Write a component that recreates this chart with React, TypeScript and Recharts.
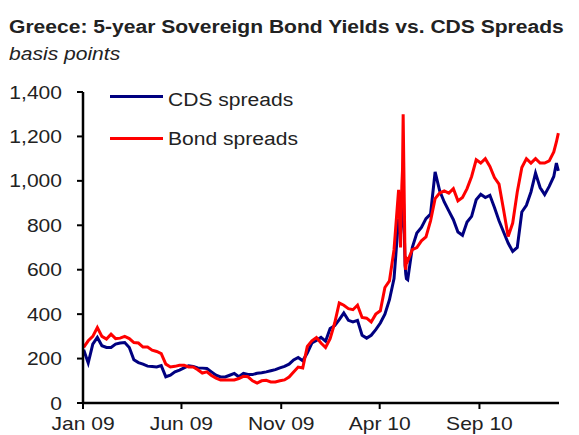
import React from 'react';
import { LineChart, Line, XAxis, YAxis } from 'recharts';

// weekly observations (Fridays) plus a few daily points around the May 2010 spike
const dates = [
  '2009-01-02', '2009-01-09', '2009-01-16', '2009-01-23', '2009-01-30',
  '2009-02-06', '2009-02-13', '2009-02-20', '2009-02-27',
  '2009-03-06', '2009-03-13', '2009-03-20', '2009-03-27',
  '2009-04-03', '2009-04-10', '2009-04-17', '2009-04-24',
  '2009-05-01', '2009-05-08', '2009-05-15', '2009-05-22', '2009-05-29',
  '2009-06-05', '2009-06-12', '2009-06-19', '2009-06-26',
  '2009-07-03', '2009-07-10', '2009-07-17', '2009-07-24', '2009-07-31',
  '2009-08-07', '2009-08-14', '2009-08-21', '2009-08-28',
  '2009-09-04', '2009-09-11', '2009-09-18', '2009-09-25',
  '2009-10-02', '2009-10-09', '2009-10-16', '2009-10-23', '2009-10-30',
  '2009-11-06', '2009-11-13', '2009-11-20', '2009-11-27',
  '2009-12-04', '2009-12-11', '2009-12-18', '2009-12-25',
  '2010-01-01', '2010-01-08', '2010-01-15', '2010-01-22', '2010-01-29',
  '2010-02-05', '2010-02-12', '2010-02-19', '2010-02-26',
  '2010-03-05', '2010-03-12', '2010-03-19', '2010-03-26',
  '2010-04-02', '2010-04-09', '2010-04-16', '2010-04-23', '2010-04-30',
  '2010-05-03', '2010-05-04', '2010-05-05', '2010-05-06', '2010-05-07',
  '2010-05-10', '2010-05-11', '2010-05-12', '2010-05-14',
  '2010-05-21', '2010-05-28',
  '2010-06-04', '2010-06-11', '2010-06-18', '2010-06-25',
  '2010-07-02', '2010-07-09', '2010-07-16', '2010-07-23', '2010-07-30',
  '2010-08-06', '2010-08-13', '2010-08-20', '2010-08-27',
  '2010-09-03', '2010-09-10', '2010-09-17', '2010-09-24',
  '2010-10-01', '2010-10-08', '2010-10-15', '2010-10-22', '2010-10-29',
  '2010-11-05', '2010-11-12', '2010-11-19', '2010-11-26',
  '2010-12-03', '2010-12-10', '2010-12-17', '2010-12-24', '2010-12-28', '2010-12-31',
];

const cdsSpreads = [
  240, 180, 265, 295, 258, 250, 250, 265, 270, 272,
  250, 195, 182, 175, 166, 164, 162, 168, 118, 125,
  140, 148, 158, 168, 165, 158, 157, 155, 140, 125,
  117, 117, 125, 133, 118, 133, 128, 128, 134, 136,
  140, 145, 150, 158, 165, 175, 194, 205, 190, 225,
  270, 282, 295, 278, 335, 348, 375, 405, 372, 365,
  372, 305, 292, 305, 330, 360, 400, 465, 560, 830,
  760, 800, 850, 900, 970,
  620, 580, 560, 555,
  700, 765, 790, 830, 850, 1040, 955, 905,
  865, 825, 770, 755, 815, 840, 915, 940, 925, 935,
  880, 820, 770, 720, 682, 700, 860, 890, 950, 1035,
  970, 938, 975, 1020, 1080, 1045,
];

const bondSpreads = [
  250, 280, 300, 340, 300, 288, 310, 290, 292, 300,
  290, 272, 270, 252, 252, 238, 232, 222, 175, 162,
  165, 170, 170, 162, 162, 150, 135, 140, 124, 112,
  103, 103, 103, 104, 110, 120, 118, 100, 90, 100,
  102, 95, 95, 100, 104, 117, 140, 162, 158, 255,
  280, 295, 270, 250, 290, 360, 450, 440, 425, 420,
  440, 385, 382, 365, 400, 415, 520, 550, 690, 960,
  700, 850, 980, 1050, 1300,
  620, 600, 650, 640,
  690, 700, 730, 748, 820, 920, 945, 955,
  945, 965, 910, 925, 965, 1020, 1095, 1080, 1100, 1065,
  1015, 985, 870, 750, 810, 950, 1060, 1100, 1080, 1100,
  1080, 1080, 1090, 1130, 1175, 1215,
];

const tickDates = ['2009-01-01', '2009-06-01', '2009-11-01', '2010-04-01', '2010-09-01'];
const tickLabels = ['Jan 09', 'Jun 09', 'Nov 09', 'Apr 10', 'Sep 10'];
const yTicks = [0, 200, 400, 600, 800, 1000, 1200, 1400];

const DAY = 86400000;
const origin = Date.parse('2009-01-01');
const toDay = (d: string) => (Date.parse(d) - origin) / DAY;

const data = dates.map((d, i) => ({
  t: toDay(d),
  cds: cdsSpreads[i],
  bond: bondSpreads[i],
}));

const xTicks = tickDates.map(toDay);

const FONT = '"Liberation Sans", Arial, sans-serif';
const NAVY = '#000080';
const RED = '#ff0000';
const TEXT = '#222';
// the source graphic is a bit stretched sideways
const STRETCH = 1.17;

const XTick = ({ x, y, payload }: any) => (
  <g transform={`translate(${x},${y + 21}) scale(${STRETCH},1)`}>
    <text x={0} y={0} textAnchor="middle" fontFamily={FONT} fontSize={18} fill={TEXT}>
      {tickLabels[xTicks.indexOf(payload.value)] ?? ''}
    </text>
  </g>
);

const YTick = ({ x, y, payload }: any) => (
  <g transform={`translate(${x - 15},${y + 6.5}) scale(${STRETCH},1)`}>
    <text x={0} y={0} textAnchor="end" fontFamily={FONT} fontSize={18} fill={TEXT}>
      {payload.value.toLocaleString('en-US')}
    </text>
  </g>
);

const stretched = (extra: React.CSSProperties): React.CSSProperties => ({
  position: 'absolute',
  fontFamily: FONT,
  fontSize: 18,
  color: TEXT,
  whiteSpace: 'nowrap',
  lineHeight: 'normal',
  transform: `scaleX(${STRETCH})`,
  transformOrigin: 'left top',
  ...extra,
});

const legendItems = [
  { name: 'CDS spreads', color: NAVY, lineY: 95, textY: 89.5 },
  { name: 'Bond spreads', color: RED, lineY: 137, textY: 128.5 },
];

export default function App() {
  return (
    <div style={{ position: 'absolute', left: 0, top: 0, width: 579, height: 435, background: '#fff' }}>
      <LineChart width={579} height={435} data={data} margin={{ top: 92, right: 20, left: 0, bottom: 0 }}>
        <XAxis
          dataKey="t"
          type="number"
          domain={[0, 730]}
          ticks={xTicks}
          height={32}
          axisLine={{ stroke: '#000', strokeWidth: 2.5 }}
          tickLine={{ stroke: '#000', strokeWidth: 2 }}
          tickSize={6}
          tickMargin={0}
          tick={<XTick />}
        />
        <YAxis
          type="number"
          domain={[0, 1400]}
          ticks={yTicks}
          interval={0}
          width={83}
          axisLine={{ stroke: '#000', strokeWidth: 2.5 }}
          tickLine={{ stroke: '#000', strokeWidth: 2 }}
          tickSize={6}
          tickMargin={0}
          tick={<YTick />}
        />
        <Line
          dataKey="cds"
          name="CDS spreads"
          stroke={NAVY}
          strokeWidth={3}
          dot={false}
          isAnimationActive={false}
        />
        <Line
          dataKey="bond"
          name="Bond spreads"
          stroke={RED}
          strokeWidth={3}
          dot={false}
          isAnimationActive={false}
        />
      </LineChart>
      <div style={stretched({ left: 9, top: 16.5, fontWeight: 'bold' })}>
        Greece: 5-year Sovereign Bond Yields vs. CDS Spreads
      </div>
      <div style={stretched({ left: 9, top: 44, fontStyle: 'italic' })}>basis points</div>
      {legendItems.map((item) => (
        <React.Fragment key={item.name}>
          <div style={{ position: 'absolute', left: 110, top: item.lineY, width: 53, height: 3, background: item.color }} />
          <div style={stretched({ left: 168, top: item.textY })}>{item.name}</div>
        </React.Fragment>
      ))}
    </div>
  );
}
